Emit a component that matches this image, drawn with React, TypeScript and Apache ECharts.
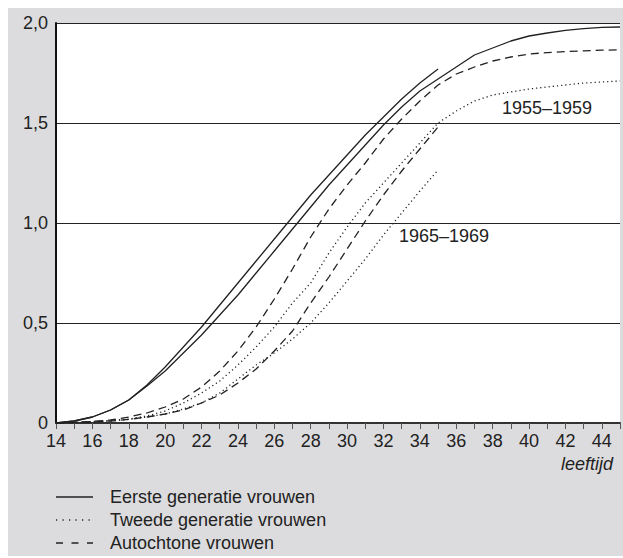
import React, { useEffect, useRef } from "react";
import * as echarts from "echarts";

const agesOld: number[] = [14,15,16,17,18,19,20,21,22,23,24,25,26,27,28,29,30,31,32,33,34,35,36,37,38,39,40,41,42,43,44,45];
const agesYoung: number[] = [14,15,16,17,18,19,20,21,22,23,24,25,26,27,28,29,30,31,32,33,34,35];

// 1955–1959 cohort (to age 45)
const eersteOld: number[] = [0,0.01,0.03,0.065,0.115,0.185,0.26,0.35,0.44,0.54,0.64,0.75,0.86,0.97,1.08,1.19,1.29,1.39,1.49,1.58,1.66,1.72,1.78,1.84,1.875,1.91,1.935,1.95,1.963,1.972,1.978,1.98];
const tweedeOld: number[] = [0,0.003,0.007,0.012,0.02,0.035,0.06,0.1,0.15,0.21,0.29,0.38,0.48,0.6,0.7,0.85,0.98,1.1,1.2,1.3,1.4,1.5,1.56,1.61,1.64,1.655,1.67,1.68,1.69,1.7,1.705,1.71];
const autochtoonOld: number[] = [0,0.003,0.008,0.015,0.03,0.05,0.08,0.12,0.18,0.26,0.36,0.48,0.62,0.77,0.93,1.07,1.19,1.3,1.42,1.52,1.61,1.69,1.745,1.78,1.81,1.83,1.845,1.852,1.857,1.861,1.864,1.866];

// 1965–1969 cohort (to age 35)
const eersteYoung: number[] = [0,0.01,0.03,0.065,0.115,0.19,0.28,0.38,0.48,0.59,0.7,0.81,0.92,1.03,1.14,1.24,1.34,1.44,1.53,1.62,1.7,1.77];
const tweedeYoung: number[] = [0,0.002,0.005,0.01,0.018,0.03,0.045,0.07,0.1,0.15,0.22,0.29,0.35,0.42,0.5,0.6,0.71,0.82,0.94,1.05,1.16,1.265];
const autochtoonYoung: number[] = [0,0.002,0.005,0.01,0.018,0.03,0.045,0.065,0.1,0.14,0.2,0.27,0.36,0.46,0.6,0.73,0.87,1.01,1.14,1.26,1.37,1.48];

const legendLabels: string[] = ["Eerste generatie vrouwen", "Tweede generatie vrouwen", "Autochtone vrouwen"];
const cohortLabels: string[] = ["1955\u20131959", "1965\u20131969"];
const xAxisTitle = "leeftijd";

const FONT = "'Liberation Sans', Arial, Helvetica, sans-serif";
const INK = "#222";
const DOTTED: number[] = [1.2, 3];
const DASHED: number[] = [8, 5];

function pairs(ages: number[], vals: number[]) {
  return ages.map((a, i) => [a, vals[i]]);
}

export default function App() {
  const ref = useRef<HTMLDivElement>(null);
  useEffect(() => {
    if (!ref.current) return;
    const chart = echarts.init(ref.current, undefined, { renderer: "svg" });
    const mk = (name: string, ages: number[], vals: number[], type: any) => ({
      name,
      type: "line",
      data: pairs(ages, vals),
      showSymbol: false,
      symbol: "none",
      smooth: false,
      lineStyle: { color: INK, width: 1.3, type },
      z: 5,
    });
    const legendY = [489, 512, 535];
    const legendDash: any[] = [null, [1.2, 5.3], [7, 8.5]];
    const graphics: any[] = [];
    legendLabels.forEach((t, i) => {
      graphics.push({
        type: "line",
        shape: { x1: 48, y1: legendY[i], x2: 85, y2: legendY[i] },
        style: { stroke: INK, lineWidth: 1.3, lineDash: legendDash[i] || undefined },
      });
      graphics.push({
        type: "text",
        x: 102,
        y: legendY[i],
        style: { text: t, font: `18px ${FONT}`, fill: INK, verticalAlign: "middle", align: "left" },
      });
    });
    graphics.push({
      type: "text",
      x: 494,
      y: 100,
      style: { text: cohortLabels[0], font: `18px ${FONT}`, fill: INK, verticalAlign: "middle", align: "left" },
      z: 10,
    });
    graphics.push({
      type: "text",
      x: 391,
      y: 228,
      style: { text: cohortLabels[1], font: `18px ${FONT}`, fill: INK, verticalAlign: "middle", align: "left" },
      z: 10,
    });
    graphics.push({
      type: "text",
      x: 605,
      y: 456,
      style: { text: xAxisTitle, font: `italic 18px ${FONT}`, fill: INK, verticalAlign: "middle", align: "right" },
    });

    chart.setOption({
      animation: false,
      backgroundColor: "#dcdcde",
      grid: { left: 48, top: 15, right: 0, bottom: 133, show: true, backgroundColor: "#ffffff", borderWidth: 0 },
      xAxis: {
        type: "value",
        min: 14,
        max: 45,
        interval: 1,
        axisLine: { show: true, lineStyle: { color: "#333", width: 2 } },
        axisTick: { show: true, length: 6, lineStyle: { color: "#555", width: 1 } },
        axisLabel: {
          fontSize: 18,
          fontFamily: FONT,
          color: INK,
          margin: 9,
          formatter: (v: number) => (v % 2 === 0 ? String(v) : ""),
        },
        splitLine: { show: false },
      },
      yAxis: {
        type: "value",
        min: 0,
        max: 2,
        interval: 0.5,
        axisLine: { show: true, lineStyle: { color: "#111", width: 2 } },
        axisTick: { show: false },
        axisLabel: {
          fontSize: 18,
          fontFamily: FONT,
          color: INK,
          margin: 8,
          formatter: (v: number) => (v === 0 ? "0" : v.toFixed(1).replace(".", ",")),
        },
        splitLine: { show: true, lineStyle: { color: "#222", width: 1 } },
      },
      series: [
        mk("Eerste 1955–1959", agesOld, eersteOld, "solid"),
        mk("Tweede 1955–1959", agesOld, tweedeOld, DOTTED),
        mk("Autochtoon 1955–1959", agesOld, autochtoonOld, DASHED),
        mk("Eerste 1965–1969", agesYoung, eersteYoung, "solid"),
        mk("Tweede 1965–1969", agesYoung, tweedeYoung, DOTTED),
        mk("Autochtoon 1965–1969", agesYoung, autochtoonYoung, DASHED),
      ],
      graphic: graphics,
    });
    return () => chart.dispose();
  }, []);
  return (
    <div
      ref={ref}
      style={{ position: "absolute", left: 8, top: 8, width: 615, height: 548 }}
    />
  );
}
